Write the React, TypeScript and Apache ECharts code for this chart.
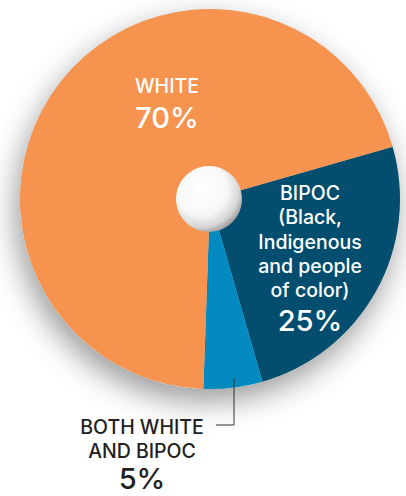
import React, { useEffect, useRef } from "react";
import * as echarts from "echarts";

const categories = ["BIPOC", "BOTH WHITE AND BIPOC", "WHITE"];
const values = [25, 5, 70];
const labelLines = [
  ["BIPOC", "(Black,", "Indigenous", "and people", "of color)"],
  ["BOTH WHITE", "AND BIPOC"],
  ["WHITE"],
];
const sliceColors = ["#034E6F", "#038AC1", "#F6934F"];

export default function App() {
  const ref = useRef<HTMLDivElement>(null);
  useEffect(() => {
    document.body.style.margin = "0";
    const chart = echarts.init(ref.current!, null, { renderer: "svg" });
    const font = "Inter, 'Open Sans', sans-serif";
    // label block layout: [centerX, firstLineCenterY, lineStep, pctCenterY, color]
    const blocks: Array<[number, number, number, number, string]> = [
      [310, 193, 24.25, 320, "#ffffff"],
      [142, 427, 23.7, 478, "#231f20"],
      [167, 86, 24, 117, "#ffffff"],
    ];
    const texts: any[] = [];
    blocks.forEach(([cx, y0, step, py, color], i) => {
      labelLines[i].forEach((l, k) => {
        texts.push({
          type: "text",
          z: 100,
          x: cx,
          y: y0 + k * step,
          style: {
            text: l,
            fill: color,
            font: `500 19.5px ${font}`,
            align: "center",
            verticalAlign: "middle",
          },
        });
      });
      texts.push({
        type: "text",
        z: 100,
        x: cx,
        y: py,
        style: {
          text: `${values[i]}%`,
          fill: color,
          font: `500 29px ${font}`,
          align: "center",
          verticalAlign: "middle",
        },
      });
    });
    chart.setOption({
      animation: false,
      backgroundColor: "#ffffff",
      series: [
        {
          type: "pie",
          silent: true,
          center: [210, 199],
          radius: 190,
          startAngle: 16,
          z: 1,
          label: { show: false },
          labelLine: { show: false },
          itemStyle: {
            color: "#cccccc",
            shadowBlur: 30,
            shadowColor: "rgba(0,0,0,0.4)",
            shadowOffsetX: -4,
            shadowOffsetY: 12,
          },
          data: [{ name: "bg", value: 1 }],
        },
        {
          type: "pie",
          silent: true,
          center: [210, 199],
          radius: 190,
          startAngle: 16,
          clockwise: true,
          z: 2,
          label: { show: false },
          labelLine: { show: false },
          itemStyle: { borderWidth: 0 },
          data: categories.map((c, i) => ({
            name: c,
            value: values[i],
            itemStyle: { color: sliceColors[i] },
          })),
        },
      ],
      graphic: [
        {
          type: "circle",
          z: 100,
          shape: { cx: 209, cy: 199, r: 33 },
          style: {
            fill: new echarts.graphic.RadialGradient(0.38, 0.35, 0.72, [
              { offset: 0, color: "#ffffff" },
              { offset: 0.55, color: "#f7f7f7" },
              { offset: 0.8, color: "#d6d6d6" },
              { offset: 1, color: "#8a8a8a" },
            ]),
          },
        },
        ...texts,
        {
          type: "polyline",
          z: 100,
          shape: { points: [[234, 378], [234, 425], [216, 425]] },
          style: { stroke: "#333333", lineWidth: 1, fill: "none" },
        },
      ],
    });
    return () => chart.dispose();
  }, []);
  return <div ref={ref} style={{ width: 406, height: 496 }} />;
}
